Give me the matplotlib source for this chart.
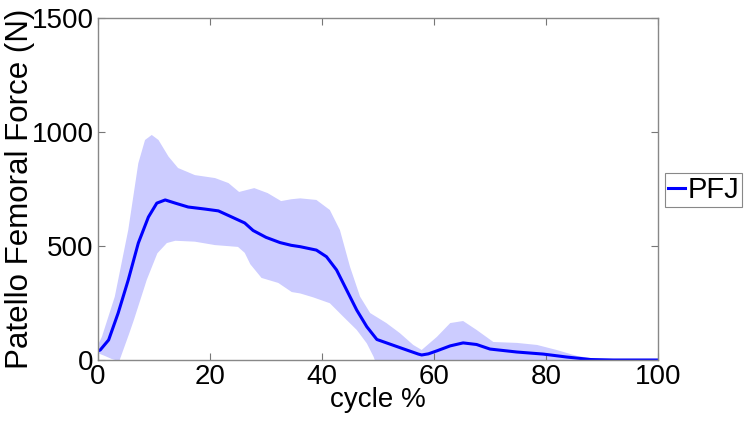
import numpy as np
import matplotlib
matplotlib.use('Agg')
import matplotlib.pyplot as plt

# mean patellofemoral force
mean_x = [0, 0.4, 1.9, 3.6, 5.4, 7.2, 9.0, 10.5, 12.0, 13.8, 16.1, 19.1, 21.5, 23.9,
          26.2, 27.7, 30, 32.5, 34.5, 36.1, 39.0, 40.8, 42.6, 44.4, 46.2, 48.0,
          49.8, 52.1, 55.1, 57.2, 57.8, 59, 60.5, 62.9, 65.2, 67.6, 70, 74.8,
          79.5, 83.7, 88, 92, 100]
mean_y = [40, 44, 88, 206, 351, 513, 627, 688, 702, 688, 671, 662, 654, 627,
          601, 568, 538, 515, 503, 497, 482, 453, 395, 307, 219, 146,
          90, 70, 44, 26, 22, 27, 40, 62, 75, 68, 48, 35,
          26, 13, 2, 0, 0]

# +/- 1 SD band edges
upper_x = [0, 0.7, 3.0, 5.4, 7.2, 8.4, 9.6, 10.8, 12.6, 14.3, 17.3, 20.9, 23.3,
           25.2, 27.9, 30.3, 32.7, 34.5, 36.1, 39.0, 41.4, 43.2, 45, 46.8, 48.6,
           51.5, 53.9, 56.3, 57.8, 60.5, 62.9, 65.2, 67.6, 70.6, 74.8, 78.4,
           81.9, 85.5, 90, 100]
upper_y = [66, 102, 278, 570, 863, 965, 987, 965, 892, 842, 811, 798, 776,
           737, 754, 732, 697, 705, 709, 702, 658, 570, 409, 278, 206,
           162, 118, 66, 44, 101, 162, 171, 132, 79, 75, 66,
           44, 18, 0, 0]

lower_x = [0, 1.2, 2.5, 3.8, 5.6, 6.4, 8.3, 8.7, 10.6, 12.3, 13.8, 17.3, 20.9,
           25.0, 26.2, 27.2, 29.2, 32.2, 34.6, 36.1, 38.4, 41.4, 43.8, 46.2,
           48.0, 49.2, 50.0, 100]
lower_y = [30, 18, 4, -5, 118, 175, 320, 351, 468, 513, 523, 519, 504,
           496, 470, 420, 360, 338, 298, 292, 275, 249, 190, 132,
           73, 15, -40, -40]

plt.rcParams['font.family'] = ['Liberation Sans', 'DejaVu Sans']

fig = plt.figure(figsize=(7.5, 4.23), dpi=100)
ax = fig.add_axes([98 / 750, 1 - 360 / 423, 560 / 750, 342 / 423])

band_x = list(upper_x) + list(lower_x)[::-1]
band_y = list(upper_y) + list(lower_y)[::-1]
ax.fill(band_x, band_y, facecolor=(0.8, 0.8, 1.0), edgecolor='none', linewidth=0)
ax.plot(mean_x, mean_y, color=(0, 0, 1), lw=2.2, label='PFJ')

ax.set_xlim(0, 100)
ax.set_ylim(0, 1500)
ax.set_xticks([0, 20, 40, 60, 80, 100])
ax.set_yticks([0, 500, 1000, 1500])
ax.tick_params(direction='in', top=True, right=True, length=5, width=0.8,
               color='#777777', labelsize=20, pad=3)
for s in ax.spines.values():
    s.set_color('#888888')
    s.set_linewidth(1)

ax.set_xlabel('cycle %', fontsize=20, labelpad=-2)
ax.set_ylabel('Patello Femoral Force (N)', fontsize=22.5, labelpad=-2)

leg = fig.legend(loc='center left', bbox_to_anchor=(665 / 750, 1 - 190 / 423),
                 fontsize=21, handlelength=0.6, handletextpad=0.08,
                 borderpad=0.1, borderaxespad=0, fancybox=False, framealpha=1)
leg.get_frame().set_edgecolor('#888888')
leg.get_frame().set_linewidth(0.8)

fig.savefig('out.png', dpi=100)
